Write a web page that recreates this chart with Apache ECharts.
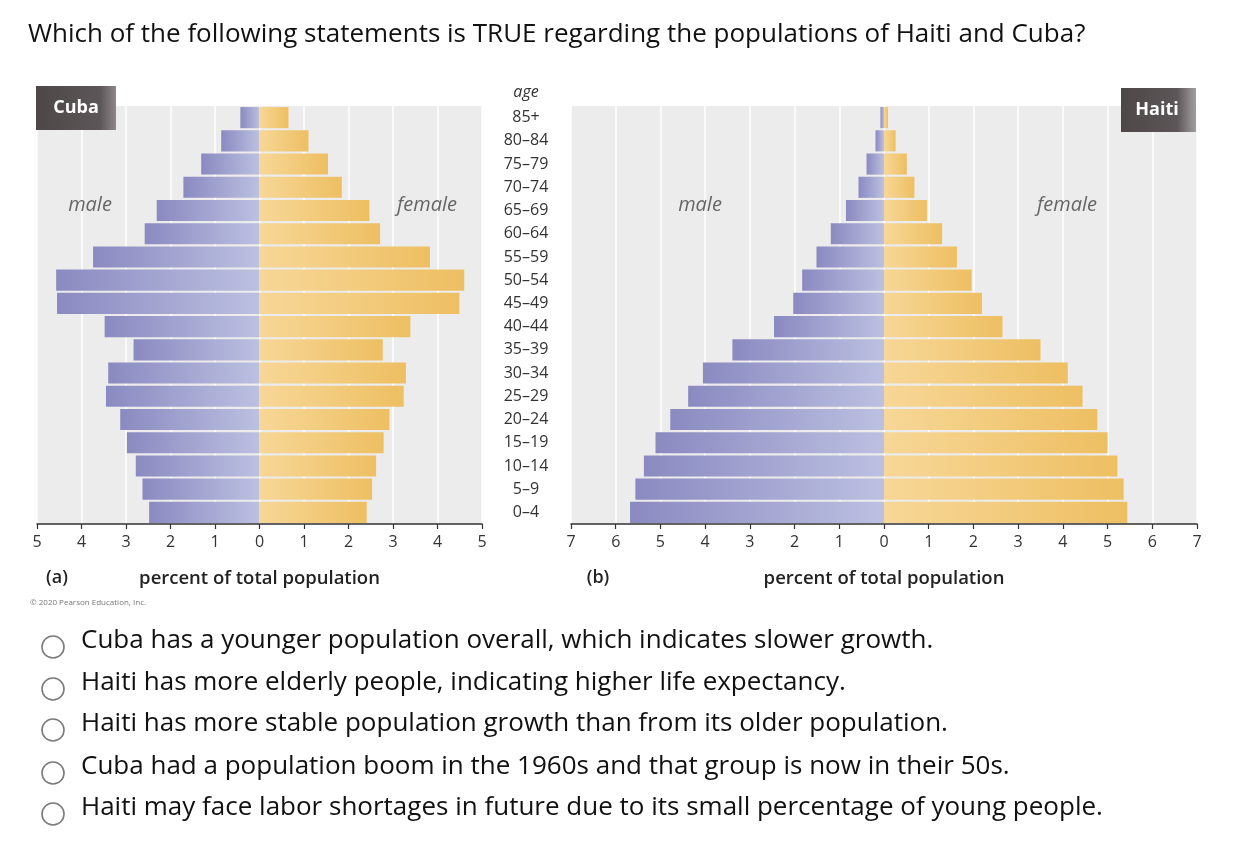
<!DOCTYPE html>
<html><head><meta charset="utf-8">
<script src="https://cdn.jsdelivr.net/npm/echarts@6/dist/echarts.min.js"></script>
<style>html,body{margin:0;padding:0;background:#fff}#c{width:1260px;height:862px}</style>
</head><body><div id="c"></div>
<script>
const ageGroups = ['0–4','5–9','10–14','15–19','20–24','25–29','30–34','35–39','40–44','45–49','50–54','55–59','60–64','65–69','70–74','75–79','80–84','85+'];
const cubaMale   = [2.48, 2.63, 2.78, 2.98, 3.13, 3.45, 3.40, 2.83, 3.48, 4.55, 4.57, 3.74, 2.58, 2.31, 1.71, 1.31, 0.86, 0.43];
const cubaFemale = [2.41, 2.53, 2.62, 2.79, 2.92, 3.24, 3.29, 2.77, 3.39, 4.49, 4.60, 3.83, 2.71, 2.47, 1.85, 1.54, 1.10, 0.65];
const haitiMale   = [5.68, 5.56, 5.37, 5.11, 4.78, 4.38, 4.05, 3.39, 2.46, 2.03, 1.83, 1.51, 1.19, 0.85, 0.57, 0.39, 0.19, 0.08];
const haitiFemale = [5.44, 5.36, 5.22, 5.00, 4.77, 4.44, 4.11, 3.50, 2.65, 2.19, 1.96, 1.63, 1.30, 0.96, 0.68, 0.51, 0.26, 0.09];
const cubaTicks = [-5, 5];
const haitiTicks = [-7, 7];
const questionText = 'Which of the following statements is TRUE regarding the populations of Haiti and Cuba?';
const choices = [
  'Cuba has a younger population overall, which indicates slower growth.',
  'Haiti has more elderly people, indicating higher life expectancy.',
  'Haiti has more stable population growth than from its older population.',
  'Cuba had a population boom in the 1960s and that group is now in their 50s.',
  'Haiti may face labor shortages in future due to its small percentage of young people.'
];

const chart = echarts.init(document.getElementById('c'));
const LG = echarts.graphic.LinearGradient;
const maleColor = new LG(0,0,1,0,[{offset:0,color:'#8a8ac1'},{offset:1,color:'#bcc0e1'}]);
const femaleColor = new LG(0,0,1,0,[{offset:0,color:'#f7d797'},{offset:1,color:'#eebf62'}]);
const lblFont = 'Open Sans';

function xAxisFor(idx, range) {
  return {
    type:'value', gridIndex:idx, min:range[0], max:range[1], interval:1,
    axisLine:{show:true, onZero:false, lineStyle:{color:'#333', width:1.5}},
    axisTick:{show:true, length:5, lineStyle:{color:'#333', width:1.2}},
    axisLabel:{formatter:v=>Math.abs(v), color:'#333', fontSize:16, fontFamily:lblFont, margin:10},
    splitLine:{show:true, lineStyle:{color:'#ffffff', width:1.5}},
    name:'percent of total population', nameLocation:'middle', nameGap:45,
    nameTextStyle:{color:'#222', fontSize:18.5, fontWeight:600, fontFamily:lblFont}
  };
}
function barSeries(x, y, data, color, neg) {
  return {
    type:'bar', xAxisIndex:x, yAxisIndex:y, data: data.map(v => neg ? -v : v),
    barGap:'-100%', barCategoryGap:'9%', itemStyle:{color:color}, silent:true, animation:false
  };
}

const texts = [];
texts.push({type:'text', z:100, x:28, y:35, style:{text:questionText, font:'26px "Open Sans"', fill:'#111', verticalAlign:'middle'}});
choices.forEach((t,i)=>{
  const cy = [641,683,724,767,808][i];
  texts.push({type:'circle', z:100, shape:{cx:53, cy:cy+6, r:11}, style:{fill:'#fff', stroke:'#7b7b7b', lineWidth:1.6}});
  texts.push({type:'text', z:100, x:81, y:cy, style:{text:t, font:'26px "Open Sans"', fill:'#111', verticalAlign:'middle'}});
});
// country boxes
texts.push({type:'rect', z:100, shape:{x:36,y:86,width:80,height:44}, style:{fill:new LG(0,0,1,0,[{offset:0,color:'#4e4748'},{offset:0.8,color:'#5d5658'},{offset:1,color:'#8d8789'}])}});
texts.push({type:'text', z:101, x:76, y:108, style:{text:'Cuba', font:'bold 18px "Open Sans"', fill:'#fff', align:'center', verticalAlign:'middle'}});
texts.push({type:'rect', z:100, shape:{x:1121,y:88,width:75,height:44}, style:{fill:new LG(0,0,1,0,[{offset:0,color:'#4e4748'},{offset:0.75,color:'#5d5658'},{offset:1,color:'#a39ea0'}])}});
texts.push({type:'text', z:101, x:1157, y:110, style:{text:'Haiti', font:'bold 18px "Open Sans"', fill:'#fff', align:'center', verticalAlign:'middle'}});
// male/female labels
[[90,'male'],[427,'female'],[700,'male'],[1067,'female']].forEach(([x,t])=>{
  texts.push({type:'text', z:100, x:x, y:205, style:{text:t, font:'italic 20px "Open Sans"', fill:'#666', align:'center', verticalAlign:'middle'}});
});
texts.push({type:'text', z:100, x:526, y:92, style:{text:'age', font:'italic 16px "Open Sans"', fill:'#333', align:'center', verticalAlign:'middle'}});
texts.push({type:'text', z:100, x:57, y:578, style:{text:'(a)', font:'600 18px "Open Sans"', fill:'#222', align:'center', verticalAlign:'middle'}});
texts.push({type:'text', z:100, x:598, y:578, style:{text:'(b)', font:'600 18px "Open Sans"', fill:'#222', align:'center', verticalAlign:'middle'}});
texts.push({type:'text', z:100, x:30, y:603, style:{text:'© 2020 Pearson Education, Inc.', font:'8px "Open Sans"', fill:'#777', verticalAlign:'middle'}});

chart.setOption({
  animation:false,
  backgroundColor:'#fff',
  grid:[
    {left:37, width:445, top:106, height:418, show:true, backgroundColor:'#ececec', borderWidth:0, containLabel:false},
    {left:571, width:626, top:106, height:418, show:true, backgroundColor:'#ececec', borderWidth:0, containLabel:false}
  ],
  xAxis:[xAxisFor(0, cubaTicks), xAxisFor(1, haitiTicks)],
  yAxis:[
    {type:'category', gridIndex:0, data:ageGroups, position:'right',
     axisLine:{show:false}, axisTick:{show:false}, splitLine:{show:false},
     axisLabel:{color:'#333', fontSize:16, fontFamily:lblFont, align:'center', margin:44}},
    {type:'category', gridIndex:1, data:ageGroups,
     axisLine:{show:false}, axisTick:{show:false}, splitLine:{show:false}, axisLabel:{show:false}}
  ],
  series:[
    barSeries(0,0,cubaMale,maleColor,true),
    barSeries(0,0,cubaFemale,femaleColor,false),
    barSeries(1,1,haitiMale,maleColor,true),
    barSeries(1,1,haitiFemale,femaleColor,false)
  ],
  graphic:texts
});
</script></body></html>
